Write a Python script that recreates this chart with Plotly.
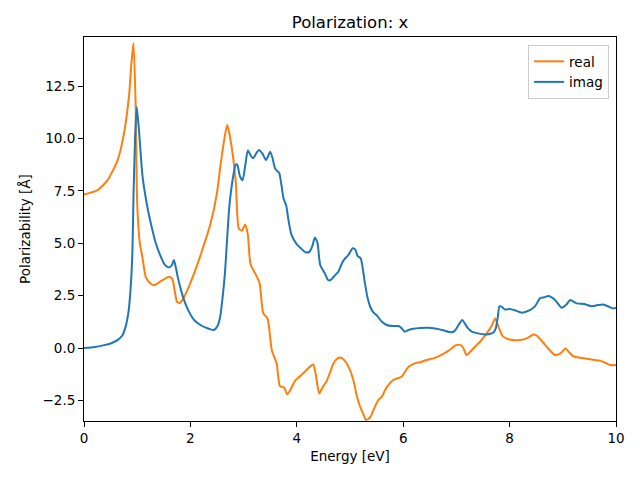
import plotly.graph_objects as go

real_x = [0.0, 0.25, 0.44, 0.63, 0.75, 0.85, 0.89, 0.93, 0.97, 1.0, 1.05, 1.10, 1.16, 1.24, 1.32, 1.45, 1.6, 1.66, 1.70, 1.75, 1.80, 1.85, 1.95, 2.07, 2.2, 2.38, 2.5, 2.57, 2.64, 2.69, 2.75, 2.85, 2.91, 2.97, 3.03, 3.08, 3.13, 3.23, 3.30, 3.37, 3.45, 3.53, 3.62, 3.68, 3.72, 3.76, 3.82, 3.90, 3.97, 4.06, 4.12, 4.20, 4.28, 4.31, 4.36, 4.42, 4.49, 4.56, 4.62, 4.69, 4.76, 4.82, 4.90, 5.0, 5.07, 5.13, 5.19, 5.25, 5.30, 5.38, 5.45, 5.53, 5.6, 5.66, 5.72, 5.80, 5.88, 5.97, 6.03, 6.10, 6.25, 6.32, 6.44, 6.57, 6.70, 6.82, 6.92, 6.99, 7.08, 7.13, 7.19, 7.27, 7.35, 7.46, 7.57, 7.66, 7.73, 7.79, 7.87, 8.0, 8.2, 8.35, 8.45, 8.51, 8.6, 8.7, 8.78, 8.85, 8.95, 9.05, 9.12, 9.19, 9.39, 9.54, 9.7, 9.8, 9.89, 10.0]
real_y = [7.33, 7.52, 8.0, 8.95, 10.22, 12.13, 13.56, 14.55, 11.65, 6.9, 5.0, 4.3, 3.4, 3.1, 3.0, 3.2, 3.4, 3.3, 2.8, 2.2, 2.15, 2.3, 2.8, 3.56, 4.5, 5.95, 7.4, 8.8, 10.0, 10.64, 10.0, 8.0, 5.7, 5.6, 5.9, 5.4, 4.0, 3.5, 3.1, 1.65, 1.41, -0.1, -0.73, -1.8, -1.85, -1.88, -2.2, -1.9, -1.55, -1.35, -1.2, -1.0, -0.81, -0.78, -1.3, -2.16, -1.85, -1.58, -1.2, -0.73, -0.5, -0.45, -0.6, -1.05, -1.6, -2.3, -2.8, -3.15, -3.43, -3.3, -2.9, -2.48, -2.32, -2.0, -1.77, -1.55, -1.45, -1.37, -1.15, -0.89, -0.7, -0.68, -0.57, -0.49, -0.35, -0.18, 0.0, 0.14, 0.14, 0.0, -0.33, -0.15, 0.06, 0.35, 0.7, 1.05, 1.41, 1.02, 0.57, 0.41, 0.38, 0.5, 0.65, 0.6, 0.35, 0.06, -0.18, -0.33, -0.27, -0.02, -0.2, -0.38, -0.49, -0.55, -0.6, -0.7, -0.81, -0.81]

imag_x = [0.0, 0.2, 0.38, 0.5, 0.63, 0.72, 0.78, 0.84, 0.88, 0.91, 0.93, 0.96, 0.99, 1.03, 1.10, 1.19, 1.27, 1.35, 1.42, 1.50, 1.55, 1.6, 1.65, 1.69, 1.73, 1.77, 1.82, 1.88, 1.97, 2.07, 2.19, 2.3, 2.37, 2.44, 2.51, 2.56, 2.60, 2.65, 2.69, 2.73, 2.78, 2.85, 2.88, 2.93, 2.98, 3.03, 3.08, 3.13, 3.18, 3.24, 3.29, 3.36, 3.42, 3.46, 3.50, 3.55, 3.59, 3.63, 3.67, 3.71, 3.75, 3.80, 3.85, 3.90, 4.0, 4.08, 4.17, 4.24, 4.29, 4.34, 4.39, 4.44, 4.53, 4.59, 4.64, 4.71, 4.78, 4.84, 4.90, 4.97, 5.05, 5.10, 5.14, 5.20, 5.28, 5.33, 5.38, 5.44, 5.50, 5.6, 5.69, 5.80, 5.91, 5.97, 6.03, 6.10, 6.19, 6.32, 6.47, 6.60, 6.75, 6.91, 6.98, 7.04, 7.11, 7.20, 7.29, 7.40, 7.55, 7.63, 7.70, 7.74, 7.78, 7.81, 7.86, 7.91, 8.0, 8.1, 8.23, 8.38, 8.48, 8.57, 8.65, 8.73, 8.85, 8.98, 9.06, 9.14, 9.26, 9.40, 9.54, 9.66, 9.76, 9.86, 9.95, 10.0]
imag_y = [0.0, 0.05, 0.14, 0.22, 0.38, 0.6, 1.0, 1.8, 3.0, 4.6, 7.2, 10.0, 11.51, 10.5, 8.2, 6.74, 5.8, 5.0, 4.5, 4.05, 3.9, 3.85, 3.95, 4.2, 3.8, 3.3, 2.8, 2.3, 1.75, 1.34, 1.1, 0.96, 0.9, 0.86, 1.05, 1.5, 2.3, 3.6, 5.2, 6.7, 7.8, 8.75, 8.75, 8.2, 8.0, 8.7, 9.43, 9.2, 9.05, 9.3, 9.45, 9.25, 8.97, 9.15, 9.37, 9.0, 8.57, 8.45, 8.35, 7.8, 7.14, 6.8, 6.0, 5.4, 4.95, 4.75, 4.56, 4.6, 4.85, 5.28, 5.0, 3.96, 3.55, 3.24, 3.25, 3.45, 3.64, 4.0, 4.25, 4.44, 4.76, 4.7, 4.4, 4.28, 3.1, 2.4, 1.97, 1.7, 1.57, 1.25, 1.1, 1.05, 1.05, 0.95, 0.78, 0.86, 0.92, 0.96, 0.97, 0.93, 0.85, 0.75, 0.85, 1.1, 1.34, 1.0, 0.78, 0.7, 0.65, 0.67, 0.75, 0.94, 1.5, 2.0, 1.95, 1.84, 1.86, 1.8, 1.69, 1.81, 2.0, 2.37, 2.42, 2.48, 2.3, 1.92, 2.05, 2.29, 2.13, 2.1, 2.0, 2.05, 2.08, 1.98, 1.89, 1.92]

y_ticks = [-2.5, 0.0, 2.5, 5.0, 7.5, 10.0, 12.5]
x_ticks = [0, 2, 4, 6, 8, 10]

fig = go.Figure()
fig.add_trace(go.Scatter(x=real_x, y=real_y, mode="lines", name="real",
                         line=dict(color="#ff7f0e", width=2, shape="spline", smoothing=0.6)))
fig.add_trace(go.Scatter(x=imag_x, y=imag_y, mode="lines", name="imag",
                         line=dict(color="#1f77b4", width=2, shape="spline", smoothing=0.6)))

font = "DejaVu Sans"
axis_common = dict(showgrid=False, zeroline=False, showline=True, linecolor="black",
                   linewidth=1, mirror=True, ticks="outside", ticklen=5, tickwidth=1,
                   tickcolor="black", tickfont=dict(family=font, size=13.5, color="black"))
fig.update_layout(
    width=632, height=472,
    margin=dict(l=76, r=24, t=29, b=59, autoexpand=False),
    plot_bgcolor="white", paper_bgcolor="white",
    title=dict(text="Polarization: x", x=0.5, xref="paper", y=1 - 14 / 472, yref="container",
               xanchor="center", yanchor="middle",
               font=dict(family=font, size=16.5, color="black")),
    xaxis=dict(range=[0, 10], tickvals=x_ticks,
               title=dict(text="Energy [eV]", font=dict(family=font, size=13.5, color="black"), standoff=6),
               **axis_common),
    yaxis=dict(range=[-3.48, 14.84], tickvals=y_ticks, tickformat=".1f",
               title=dict(text="Polarizability [Å]", font=dict(family=font, size=13.5, color="black"), standoff=8),
               **axis_common),
    legend=dict(x=0.987, y=0.979, xanchor="right", yanchor="top", bgcolor="rgba(255,255,255,0.8)",
                bordercolor="#cccccc", borderwidth=1, font=dict(family=font, size=13.5, color="black"),
                tracegroupgap=0, itemwidth=30),
    showlegend=True,
)
fig.write_html("out.html")
